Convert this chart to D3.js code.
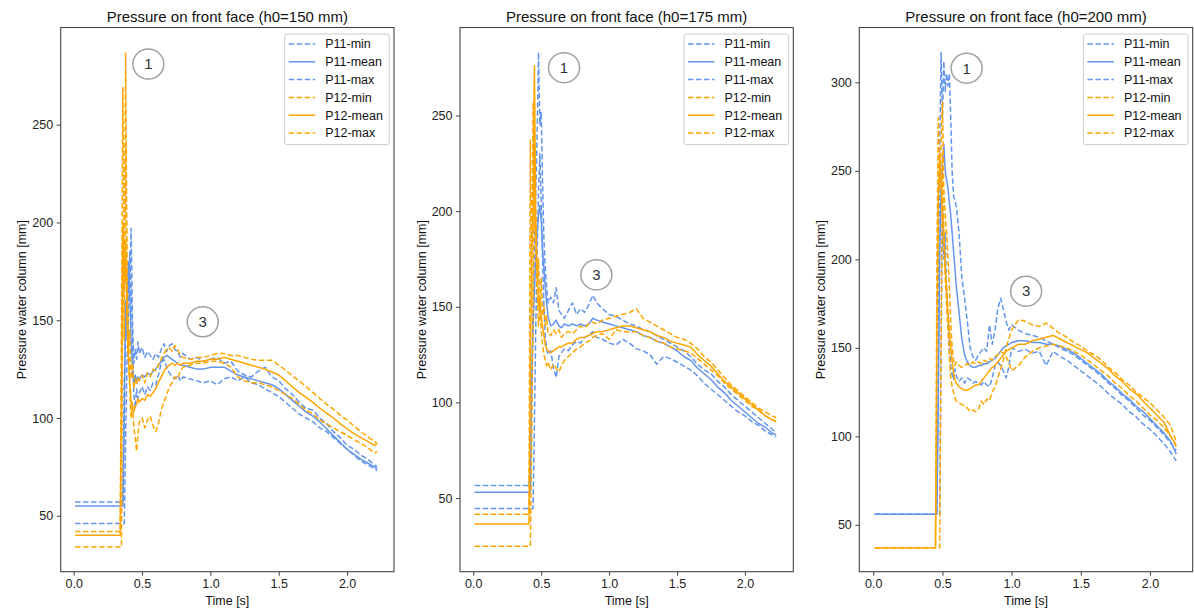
<!DOCTYPE html>
<html>
<head>
<meta charset="utf-8">
<script src="https://cdn.jsdelivr.net/npm/d3@7"></script>
<style>
  body { margin: 0; background: #fff; }
  svg { display: block; font-family: "Liberation Sans", Arial, sans-serif; }
</style>
</head>
<body>
<svg id="chart" width="1194" height="609"></svg>
<script>
// ---------- h0 = 150 mm ----------
const time150 = [0.01,0.33,0.34,0.35,0.36,0.37,0.38,0.39,0.40,0.41,0.42,0.43,0.44,0.45,0.46,0.47,0.48,0.50,0.52,0.54,0.56,0.58,0.60,0.62,0.64,0.66,0.68,0.70,0.72,0.74,0.76,0.78,0.80,0.85,0.90,0.95,1.00,1.05,1.10,1.15,1.20,1.25,1.30,1.35,1.40,1.45,1.50,1.55,1.60,1.65,1.70,1.75,1.80,1.85,1.90,1.95,2.00,2.05,2.10,2.15,2.20,2.22];
const p11Min150 = [57,57,57,57,57,120,150,140,175,160, 197,150,128,135,130,139,133,136,131,134, 132,130,133,131,135,138,134,137,138,135, 134,131,133,130,131,129,130,131,128,129, 124,122,121,124,126,121,119,115,112,108, 105,104,100,97,93,90,86,84,81,79, 76,75];
const p11Mean150 = [55,55,55,55,55,100,160,150,180,165, 140,125,118,122,119,121,120,122,121,123, 122,124,125,127,129,131,132,131,130,129, 128,127,127,126,125,125,126,126,126,124, 122,121,120,119,118,117,115,112,109,106, 103,101,98,94.5,91,87.5,84,81.5,79,77, 75,74];
const p11Max150 = [46,46,46,46,46,46,90,130,150,185, 165,140,112,105,115,110,113,116,112,116, 114,118,117,122,128,130,126,123,121,120, 122,119,121,120,119,118,119,117,120,121, 119,121,118,117,115,113,111,108,105,102, 100,98,95,93,90,87,84,81,78,76, 74,73];
const p12Min150 = [42,42,42,150,269,180,240,170,135,145, 120,128,115,120,117,121,119,122,118,123, 121,125,124,127,130,133,135,136,134,137, 135,132,131,130,131,131,132,133,133,132, 132,131,130,129.5,129.5,129.5,127,124.5,121.5,119, 116,113,110,107,104.5,101.5,99,96,93,90.5, 88,87];
const p12Mean150 = [40,40,40,110,198,165,190,150,130,118, 108,104,103,106,107,110,108,110,109,112, 111,113,115,118,121,124,126,127,128,127, 128,127,128,128,129,129,130,130,131,130, 129,128,127,126,125,123.5,122,119,116,113, 110.5,108,105,102.5,100,97,94.5,92,90,88, 86,87];
const p12Max150 = [34,34,34,34,200,140,287,175,140,115, 100,108,95,90,83,92,98,100,95,99, 101,96,93,97,104,108,112,116,118,121, 120,124,126,127,128,128,129,129,128,126, 121,119,118,118,117,116,114,112,110,107, 104,102,99,97,95,93,91,89,87,85, 82,83];

// ---------- h0 = 175 mm ----------
const time175 = [0.01,0.40,0.41,0.42,0.43,0.44,0.45,0.46,0.47,0.48,0.49,0.50,0.51,0.52,0.53,0.54,0.55,0.57,0.59,0.61,0.63,0.65,0.67,0.70,0.73,0.76,0.79,0.82,0.85,0.88,0.91,0.95,1.00,1.05,1.10,1.15,1.20,1.25,1.30,1.35,1.40,1.45,1.50,1.55,1.60,1.65,1.70,1.75,1.80,1.85,1.90,1.95,2.00,2.05,2.10,2.15,2.20,2.23];
const p11Min175 = [56.6,56.6,56.6,70,110,150,180,210,240,283, 245,252,215,185,170,160,152,155,152,160, 148,146,144,148,152,146,149,147,151,156, 152,149,146,145,143,141,140,138,137,135, 133,131,129,127,124,120,117,115,111,108, 104,101,98,95,92,89,86,84];
const p11Mean175 = [53,53,53,53,110,140,160,175,190,198, 203,195,180,170,160,152,145,140,141,143, 140,139,141,140,141,140,141,140,141,144, 143,142,141,140,139,138,137,135,134,132, 131,129,127,124,122,118,115,112,108,105, 101,98,95,92,89,87,84,83];
const p11Max175 = [44.6,44.6,44.6,44.6,44.6,44.6,90,140,180,210, 230,205,175,150,135,128,125,127,118,113, 124,126,128,127,130,132,131,134,135,137, 134,133,131,130,133,131,128,127,125,120, 124,123,121,119,117,114,110,107,104,101, 98,95,93,90,88,85,83,82];
const p12Min175 = [41.5,41.5,41.5,237,150,257,190,200,160,175, 150,165,145,150,140,145,136,135,138,136, 138,134,136,137,136,138,140,139,141,142, 141,143,144,145,146,147,149,144,142,140, 138,136,134,133,131,128,124,121,117,113, 109,106,103,100,97,95,93,92];
const p12Mean175 = [36.4,36.4,36.4,120,180,200,276,190,170,150, 155,145,140,135,130,128,127,126,127,128, 129,129,130,131,131,133,134,134,135,136, 137,137,138,139,140,140,139,138,137,135, 134,132,131,130,129,125,122,119,115,111, 108,105,102,99,96,93,91,90];
const p12Max175 = [24.8,24.8,24.8,24.8,80,150,230,180,160,140, 150,138,130,125,122,119,121,117,120,118, 116,119,122,124,126,128,129,131,132,134, 135,136,133,138,137,137,137,135,134,132, 131,129,128,127,126,123,120,117,114,110, 107,104,101,98,96,93,91,90];

// ---------- h0 = 200 mm ----------
const time200 = [0.01,0.44,0.45,0.46,0.47,0.48,0.49,0.50,0.51,0.52,0.53,0.54,0.55,0.56,0.57,0.58,0.59,0.60,0.62,0.64,0.66,0.68,0.70,0.72,0.74,0.76,0.78,0.80,0.82,0.84,0.86,0.88,0.90,0.92,0.94,0.96,0.98,1.00,1.05,1.10,1.15,1.20,1.25,1.30,1.35,1.40,1.45,1.50,1.55,1.60,1.65,1.70,1.75,1.80,1.85,1.90,1.95,2.00,2.05,2.10,2.15,2.19];
const p11Min200 = [56,56,56,56,150,260,317,280,312,295, 305,298,305,280,250,236,233,230,215,190, 178,165,150,145,143,146,148,150,148,163, 152,160,172,178,172,165,160,163,160,158, 157,156,154,152,150,148,146,143,140,137, 134,130,127,123,120,116,112,109,105,101, 96,92];
const p11Mean200 = [56,56,56,56,120,200,240,255,265,250, 245,240,232,225,215,205,195,185,170,155, 146,142,140,139,139,140,140,141,141,142, 143,144,146,148,150,151,152,153,154,154, 153,153,152,152,151,149,147,144,141,138, 135,131,128,124,121,117,114,110,106,102, 97,90];
const p11Max200 = [56,56,56,56,56,56,150,230,200,215, 180,165,150,140,135,132,138,134,131,133, 130,133,132,130,131,130,129,131,129,128, 133,140,142,140,137,133,139,150,148,149, 147,148,140,148,145,143,140,137,134,131, 128,124,121,118,114,111,107,104,100,96, 91,86];
const p12Min200 = [37,37,37,200,280,240,265,289,240,225, 215,200,185,165,150,143,140,142,140,139, 140,141,140,142,141,142,141,143,142,144, 143,145,146,148,147,145,142,137,140,145, 148,150,151,152,151,150,148,146,143,140, 137,134,130,127,123,120,116,112,109,105, 100,94];
const p12Mean200 = [37,37,37,150,230,260,245,225,215,195, 185,170,160,150,142,136,132,130,128,127, 126,126,127,128,129,129,131,133,135,137, 139,140,142,144,146,148,149,150,152,152, 154,155,156,157,155,153,151,149,147,144, 141,138,134,131,127,124,120,116,112,108, 100,95];
const p12Max200 = [37,37,37,37,37,37,150,260,215,190, 175,160,145,133,128,125,122,120,119,118, 117,116,114,115,114,115,120,118,121,120, 125,128,133,138,143,150,155,160,166,165, 163,162,164,161,158,156,153,151,148,146, 143,139,136,132,129,125,122,119,115,111, 106,97];

// ---------- labels and ticks ----------
const seriesNames = ["P11-min", "P11-mean", "P11-max", "P12-min", "P12-mean", "P12-max"];
const xTicks = [0, 0.5, 1, 1.5, 2];
const yTicks250 = [50, 100, 150, 200, 250];
const yTicks300 = [50, 100, 150, 200, 250, 300];

// ---------- styling ----------
const BLUE = "#6495ED", ORANGE = "#FFA500";
const DASH = "5.5,2.5";
const seriesStyle = [
  { color: BLUE, dash: DASH }, { color: BLUE, dash: null }, { color: BLUE, dash: DASH },
  { color: ORANGE, dash: DASH }, { color: ORANGE, dash: null }, { color: ORANGE, dash: DASH }
];
const TOP = 27.5, BOTTOM = 571.7;

const panels = [
  { title: "Pressure on front face (h0=150 mm)", time: time150,
    values: [p11Min150, p11Mean150, p11Max150, p12Min150, p12Mean150, p12Max150],
    left: 60.7, right: 394, xDomain: [-0.095, 2.343], yDomain: [21.4, 299.7], yTicks: yTicks250,
    notes: [{ label: "1", t: 0.546, v: 281 }, { label: "3", t: 0.944, v: 149.2 }] },
  { title: "Pressure on front face (h0=175 mm)", time: time175,
    values: [p11Min175, p11Mean175, p11Max175, p12Min175, p12Mean175, p12Max175],
    left: 460, right: 793.3, xDomain: [-0.098, 2.356], yDomain: [11.5, 296], yTicks: yTicks250,
    notes: [{ label: "1", t: 0.668, v: 275 }, { label: "3", t: 0.906, v: 166.7 }] },
  { title: "Pressure on front face (h0=200 mm)", time: time200,
    values: [p11Min200, p11Mean200, p11Max200, p12Min200, p12Mean200, p12Max200],
    left: 859.3, right: 1192.7, xDomain: [-0.101, 2.309], yDomain: [23.5, 331], yTicks: yTicks300,
    notes: [{ label: "1", t: 0.675, v: 308 }, { label: "3", t: 1.105, v: 182 }] }
];

const svg = d3.select("#chart");
svg.append("rect").attr("width", 1194).attr("height", 609).attr("fill", "#fff");

panels.forEach(p => {
  const x = d3.scaleLinear().domain(p.xDomain).range([p.left, p.right]);
  const y = d3.scaleLinear().domain(p.yDomain).range([BOTTOM, TOP]);
  const g = svg.append("g");

  // traces
  p.values.forEach((vals, k) => {
    const line = d3.line().x((d, i) => x(p.time[i])).y(d => y(d));
    g.append("path")
      .attr("d", line(vals))
      .attr("fill", "none")
      .attr("stroke", seriesStyle[k].color)
      .attr("stroke-width", 1.5)
      .attr("stroke-dasharray", seriesStyle[k].dash)
      .attr("stroke-linejoin", "round");
  });

  // axes
  const styleAxis = a => {
    a.select(".domain").remove();
    a.selectAll(".tick line").attr("stroke", "#444").attr("stroke-width", 1);
    a.selectAll(".tick text").attr("fill", "#222").style("font-size", "12.5px")
      .style("font-family", "'Liberation Sans', Arial, sans-serif");
  };
  g.append("g").attr("transform", `translate(0,${BOTTOM})`)
    .call(d3.axisBottom(x).tickValues(xTicks).tickFormat(d3.format(".1f")).tickSize(4).tickPadding(3.5))
    .call(styleAxis);
  g.append("g").attr("transform", `translate(${p.left},0)`)
    .call(d3.axisLeft(y).tickValues(p.yTicks).tickFormat(d3.format("d")).tickSize(4).tickPadding(3.5))
    .call(styleAxis);

  // frame
  g.append("rect")
    .attr("x", p.left).attr("y", TOP)
    .attr("width", p.right - p.left).attr("height", BOTTOM - TOP)
    .attr("fill", "none").attr("stroke", "#444").attr("stroke-width", 1.1);

  // titles and axis labels
  const cx = (p.left + p.right) / 2;
  g.append("text").attr("x", cx).attr("y", 21.5).attr("text-anchor", "middle")
    .style("font-size", "15px").attr("fill", "#111").text(p.title);
  g.append("text").attr("x", cx).attr("y", 604.5).attr("text-anchor", "middle")
    .style("font-size", "12.5px").attr("fill", "#111").text("Time [s]");
  g.append("text")
    .attr("transform", `translate(${p.left - 34.5},${(TOP + BOTTOM) / 2}) rotate(-90)`)
    .attr("text-anchor", "middle").style("font-size", "12.5px").attr("fill", "#111")
    .text("Pressure water column [mm]");

  // legend
  const lw = 104.6, lh = 110.7;
  const lx = p.right - 4.7 - lw, ly = TOP + 6.5;
  const leg = g.append("g");
  leg.append("rect").attr("x", lx).attr("y", ly).attr("width", lw).attr("height", lh)
    .attr("rx", 2.5).attr("fill", "#fff").attr("fill-opacity", 0.8)
    .attr("stroke", "#ccc").attr("stroke-width", 1);
  seriesNames.forEach((name, k) => {
    const cy = ly + 10 + k * 17.8;
    leg.append("line").attr("x1", lx + 4).attr("x2", lx + 30.5).attr("y1", cy).attr("y2", cy)
      .attr("stroke", seriesStyle[k].color).attr("stroke-width", 1.5)
      .attr("stroke-dasharray", seriesStyle[k].dash);
    leg.append("text").attr("x", lx + 40.5).attr("y", cy + 4.4)
      .style("font-size", "12.5px").attr("fill", "#111").text(name);
  });

  // numbered callouts
  p.notes.forEach(n => {
    const nx = x(n.t), ny = y(n.v);
    g.append("ellipse").attr("cx", nx).attr("cy", ny).attr("rx", 15.5).attr("ry", 15)
      .attr("fill", "#fff").attr("stroke", "#a0a0a0").attr("stroke-width", 1.5);
    g.append("text").attr("x", nx).attr("y", ny + 5.3).attr("text-anchor", "middle")
      .style("font-size", "15px").attr("fill", "#333").text(n.label);
  });
});
</script>
</body>
</html>
